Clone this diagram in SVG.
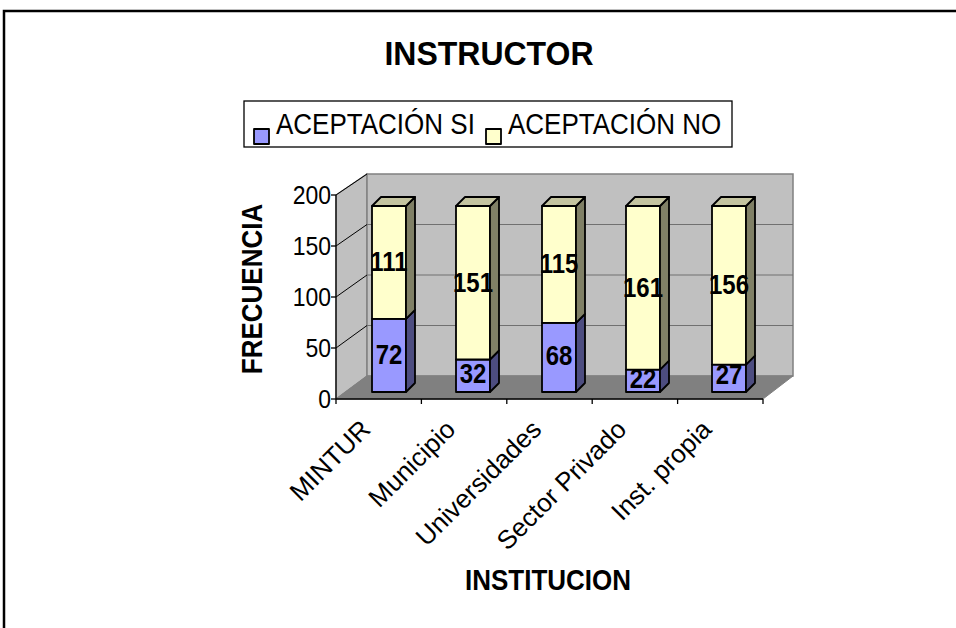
<svg xmlns="http://www.w3.org/2000/svg" width="956" height="628" viewBox="0 0 956 628">
<style>
text{font-family:"Liberation Sans",Arial,sans-serif;fill:#000}
.title{font-size:32px;font-weight:bold;text-anchor:middle}
.axt{font-size:26px;font-weight:bold;text-anchor:middle}
.leg{font-size:26px}
.tick{font-size:23px;text-anchor:end}
.cat{font-size:26px;text-anchor:end}
.val{font-size:24px;font-weight:bold;text-anchor:middle}
.bar{stroke:#000;stroke-width:1.8;stroke-linejoin:round}
.bf{fill:#9999ff}.bs{fill:#4d4d80}
.yf{fill:#ffffcc}.ys{fill:#808066}.yt{fill:#c4c4a0}
.grid{stroke:#707070;stroke-width:1.2;fill:none}
.ax{stroke:#000;stroke-width:1.3;fill:none}
</style>
<rect x="0" y="0" width="956" height="628" fill="#fff"/>
<rect x="4" y="11" width="1000" height="700" fill="none" stroke="#000" stroke-width="2.5"/>
<text class="title" transform="translate(489,65) scale(1,1.05)">INSTRUCTOR</text>
<g id="legend">
<rect x="244" y="101" width="488" height="46" fill="#fff" stroke="#000" stroke-width="1.3"/>
<rect x="254" y="129" width="15" height="15" class="bar bf" stroke-width="1.5"/>
<text class="leg" transform="translate(276,134) scale(1,1.1)">ACEPTACIÓN SI</text>
<rect x="486" y="129" width="15" height="15" class="bar yf" stroke-width="1.5"/>
<text class="leg" transform="translate(508,134) scale(1,1.1)">ACEPTACIÓN NO</text>
</g>
<g id="plot">
<polygon points="336,195 367,174 367,376 336,399" fill="#c0c0c0" stroke="#808080" stroke-width="1.2"/>
<rect x="367" y="174" width="426" height="202" fill="#c0c0c0" stroke="#808080" stroke-width="1.5"/>
<polygon points="336,399 367,376 793,376 763,399" fill="#808080" stroke="#808080" stroke-width="1"/>
<g class="grid">
<line x1="367" y1="224.5" x2="793" y2="224.5"/>
<line x1="367" y1="275" x2="793" y2="275"/>
<line x1="367" y1="325.5" x2="793" y2="325.5"/>
</g>
<g stroke="#000" stroke-width="1">
<line x1="336" y1="195" x2="367" y2="174"/>
<line x1="336" y1="246" x2="367" y2="224.5"/>
<line x1="336" y1="297" x2="367" y2="275"/>
<line x1="336" y1="348" x2="367" y2="325.5"/>
</g>
<g class="ax">
<line x1="336" y1="195" x2="336" y2="399"/>
<line x1="336" y1="399" x2="763" y2="399"/>
<line x1="331" y1="195" x2="336" y2="195"/>
<line x1="331" y1="246" x2="336" y2="246"/>
<line x1="331" y1="297" x2="336" y2="297"/>
<line x1="331" y1="348" x2="336" y2="348"/>
<line x1="331" y1="399" x2="336" y2="399"/>
<line x1="336" y1="399" x2="336" y2="404"/>
<line x1="421.4" y1="399" x2="421.4" y2="404"/>
<line x1="506.8" y1="399" x2="506.8" y2="404"/>
<line x1="592.2" y1="399" x2="592.2" y2="404"/>
<line x1="677.6" y1="399" x2="677.6" y2="404"/>
<line x1="763" y1="399" x2="763" y2="404"/>
</g>
<text class="tick" transform="translate(331,203.5) scale(1,1.12)">200</text>
<text class="tick" transform="translate(331,254.5) scale(1,1.12)">150</text>
<text class="tick" transform="translate(331,305.5) scale(1,1.12)">100</text>
<text class="tick" transform="translate(331,356.5) scale(1,1.12)">50</text>
<text class="tick" transform="translate(331,407.5) scale(1,1.12)">0</text>
</g>
<g id="bar-mintur">
<rect class="bar bf" x="372" y="318.8" width="34" height="73.2"/>
<polygon class="bar bs" points="406,392 415,383 415,309.8 406,318.8"/>
<rect class="bar yf" x="372" y="206" width="34" height="112.8"/>
<polygon class="bar ys" points="406,318.8 415,309.8 415,197 406,206"/>
<polygon class="bar yt" points="372,206 381,197 415,197 406,206"/>
<text class="val" transform="translate(389,271) scale(1,1.15)">111</text>
<text class="val" transform="translate(389,364) scale(1,1.15)">72</text>
</g>
<g id="bar-municipio">
<rect class="bar bf" x="456" y="359.5" width="34" height="32.5"/>
<polygon class="bar bs" points="490,392 499,383 499,350.5 490,359.5"/>
<rect class="bar yf" x="456" y="206" width="34" height="153.5"/>
<polygon class="bar ys" points="490,359.5 499,350.5 499,197 490,206"/>
<polygon class="bar yt" points="456,206 465,197 499,197 490,206"/>
<text class="val" transform="translate(473,292) scale(1,1.15)">151</text>
<text class="val" transform="translate(473,383) scale(1,1.15)">32</text>
</g>
<g id="bar-universidades">
<rect class="bar bf" x="542" y="322.9" width="34" height="69.1"/>
<polygon class="bar bs" points="576,392 585,383 585,313.9 576,322.9"/>
<rect class="bar yf" x="542" y="206" width="34" height="116.9"/>
<polygon class="bar ys" points="576,322.9 585,313.9 585,197 576,206"/>
<polygon class="bar yt" points="542,206 551,197 585,197 576,206"/>
<text class="val" transform="translate(559,273) scale(1,1.15)">115</text>
<text class="val" transform="translate(559,365) scale(1,1.15)">68</text>
</g>
<g id="bar-sector-privado">
<rect class="bar bf" x="626" y="369.6" width="34" height="22.4"/>
<polygon class="bar bs" points="660,392 669,383 669,360.6 660,369.6"/>
<rect class="bar yf" x="626" y="206" width="34" height="163.6"/>
<polygon class="bar ys" points="660,369.6 669,360.6 669,197 660,206"/>
<polygon class="bar yt" points="626,206 635,197 669,197 660,206"/>
<text class="val" transform="translate(643,297) scale(1,1.15)">161</text>
<text class="val" transform="translate(643,388) scale(1,1.15)">22</text>
</g>
<g id="bar-inst-propia">
<rect class="bar bf" x="712" y="364.6" width="34" height="27.4"/>
<polygon class="bar bs" points="746,392 755,383 755,355.6 746,364.6"/>
<rect class="bar yf" x="712" y="206" width="34" height="158.6"/>
<polygon class="bar ys" points="746,364.6 755,355.6 755,197 746,206"/>
<polygon class="bar yt" points="712,206 721,197 755,197 746,206"/>
<text class="val" transform="translate(729,294) scale(1,1.15)">156</text>
<text class="val" transform="translate(729,384) scale(1,1.15)">27</text>
</g>
<g id="categories">
<text class="cat" transform="translate(372,431) rotate(-45)">MINTUR</text>
<text class="cat" transform="translate(457,431) rotate(-45)">Municipio</text>
<text class="cat" transform="translate(543,431) rotate(-45)">Universidades</text>
<text class="cat" transform="translate(628,431) rotate(-45)">Sector Privado</text>
<text class="cat" transform="translate(713,431) rotate(-45)">Inst. propia</text>
</g>
<text class="axt" transform="translate(548,590) scale(1,1.1)">INSTITUCION</text>
<text class="axt" transform="translate(262,289) rotate(-90) scale(1,1.1)">FRECUENCIA</text>
</svg>
